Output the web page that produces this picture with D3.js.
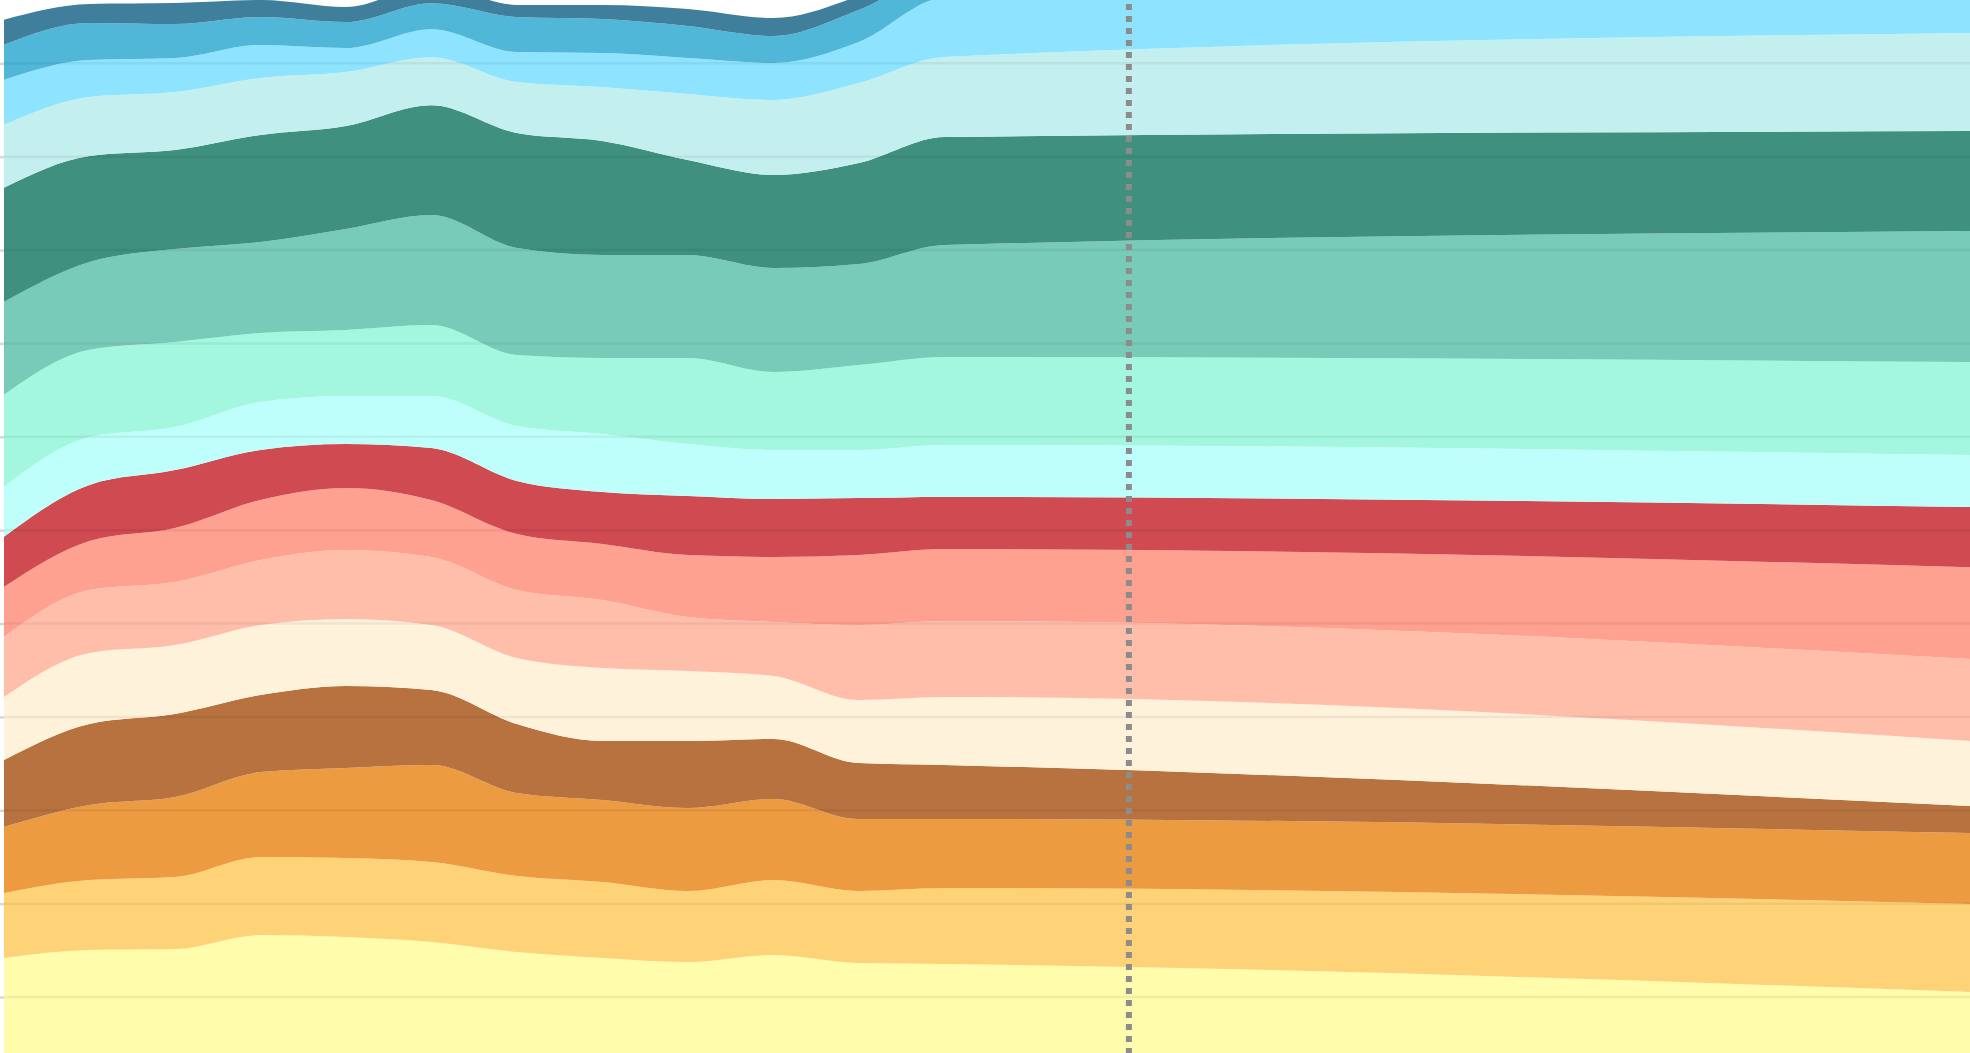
<!DOCTYPE html>
<html>
<head>
<meta charset="utf-8">
<script src="https://cdn.jsdelivr.net/npm/d3@7"></script>
<style>
  html, body { margin: 0; padding: 0; background: #ffffff; overflow: hidden; }
  svg { display: block; }
</style>
</head>
<body>
<svg id="chart" width="1970" height="1053"></svg>
<script>
// ---- data ----
const periods = [0, 1, 2, 3, 4, 5, 6, 7, 8, 9, 10, 11, 23];
const markerPeriod = 13.16;
const yTicks = [0, 10, 20, 30, 40, 50, 60, 70, 80, 90, 100, 110];

const seriesNames = ["s01","s02","s03","s04","s05","s06","s07","s08","s09","s10","s11","s12","s13","s14","s15","s16"];
const seriesColors = ["#fffcab","#fed277","#ec9b41","#b7723f","#fef2da","#ffbeaa","#fea190","#cf4a51",
                      "#bffffb","#a3f7df","#78cbb8","#3f907e","#c3efee","#8ee4fe","#50b7d8","#3f7f9b"];

const s01 = [14.18, 15.04, 15.14, 16.64, 16.43, 15.89, 14.82, 14.18, 13.75, 14.50, 13.64, 13.54, 10.54];
const s02 = [6.96, 7.50, 7.71, 8.35, 8.46, 8.57, 8.14, 8.14, 7.60, 8.03, 7.71, 8.14, 9.42];
const s03 = [7.07, 8.03, 8.57, 9.10, 9.64, 10.39, 8.89, 8.78, 8.89, 8.68, 7.71, 7.39, 7.60];
const s04 = [7.18, 8.68, 8.89, 8.25, 8.78, 8.03, 7.39, 6.32, 7.18, 6.43, 6.00, 5.78, 2.89];
const s05 = [6.75, 7.60, 7.39, 7.50, 7.18, 6.96, 7.07, 7.82, 7.50, 6.75, 6.75, 7.28, 6.96];
const s06 = [6.43, 6.75, 6.75, 6.96, 7.39, 7.28, 7.28, 7.28, 5.78, 5.78, 8.03, 8.14, 8.78];
const s07 = [5.36, 5.25, 5.78, 6.43, 6.64, 6.10, 6.00, 6.00, 6.64, 6.96, 7.50, 7.71, 9.85];
const s08 = [5.36, 6.00, 6.21, 5.36, 4.71, 5.57, 5.68, 5.57, 6.32, 6.21, 6.10, 5.57, 6.43];
const s09 = [5.36, 5.14, 4.61, 5.14, 5.14, 5.57, 5.89, 6.21, 5.57, 5.25, 5.14, 5.57, 5.57];
const s10 = [9.85, 9.32, 9.10, 7.39, 7.07, 7.60, 7.60, 8.14, 9.21, 8.35, 9.10, 9.42, 9.96];
const s11 = [9.96, 9.42, 9.96, 9.75, 10.82, 11.78, 11.46, 11.03, 11.03, 11.14, 10.82, 12.00, 14.03];
const s12 = [12.21, 11.35, 10.60, 11.46, 11.03, 11.78, 12.32, 12.21, 10.17, 9.96, 10.82, 11.57, 10.71];
const s13 = [6.75, 6.32, 6.21, 6.10, 5.78, 5.14, 5.46, 5.78, 7.07, 8.03, 8.57, 8.57, 10.50];
const s14 = [4.82, 3.96, 3.64, 3.53, 2.57, 3.00, 3.21, 3.64, 3.86, 3.96, 4.39, 6.32, 4.82];
const s15 = [3.75, 3.96, 3.64, 3.00, 2.78, 2.78, 3.75, 3.64, 3.43, 2.89, 3.43, 2.68, 3.00];
const s16 = [2.68, 2.03, 2.25, 1.82, 1.61, 1.93, 1.29, 1.50, 1.82, 1.93, 1.50, 1.61, 1.93];

const seriesValues = [s01,s02,s03,s04,s05,s06,s07,s08,s09,s10,s11,s12,s13,s14,s15,s16];

// ---- build table ----
const table = periods.map((p, i) => {
  const row = { period: p };
  seriesNames.forEach((n, j) => { row[n] = seriesValues[j][i]; });
  return row;
});

const W = 1970, H = 1053;
const svg = d3.select("#chart");
svg.append("rect").attr("width", W).attr("height", H).attr("fill", "#ffffff");

const x = d3.scaleLinear().domain([0, 23]).range([4, 1970]);
const y = d3.scaleLinear().domain([0, 110]).range([1090.4, 63.3]);

const stack = d3.stack().keys(seriesNames).order(d3.stackOrderNone).offset(d3.stackOffsetNone);
const layers = stack(table);

const area = d3.area()
  .curve(d3.curveMonotoneX)
  .x(d => x(d.data.period))
  .y0(d => y(d[0]))
  .y1(d => y(d[1]));

svg.append("g").selectAll("path")
  .data(layers)
  .join("path")
  .attr("d", area)
  .attr("fill", (d, i) => seriesColors[i]);

// gridlines
svg.append("g").selectAll("line")
  .data(yTicks)
  .join("line")
  .attr("x1", 4).attr("x2", W)
  .attr("y1", d => y(d)).attr("y2", d => y(d))
  .attr("stroke", "#000000")
  .attr("stroke-opacity", 0.055)
  .attr("stroke-width", 2.5);

// left tick marks
const yAxis = d3.axisLeft(y).tickValues(yTicks).tickSize(4).tickFormat("");
const gAxis = svg.append("g").attr("transform", "translate(4,0)").call(yAxis);
gAxis.select(".domain").remove();
gAxis.selectAll(".tick line").attr("stroke", "#d8d8d8").attr("stroke-width", 2.5);

// dotted marker
svg.append("line")
  .attr("x1", x(markerPeriod)).attr("x2", x(markerPeriod))
  .attr("y1", 4).attr("y2", H)
  .attr("stroke", "#8c8c8c")
  .attr("stroke-width", 6)
  .attr("stroke-dasharray", "6,6");
</script>
</body>
</html>
